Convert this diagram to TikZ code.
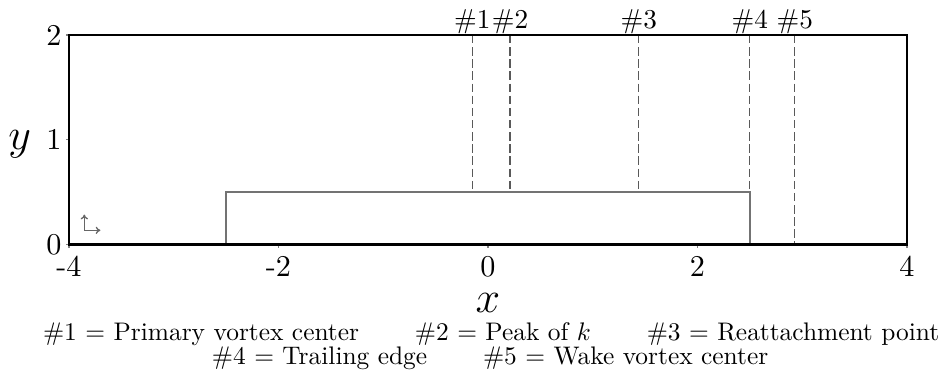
\documentclass[tikz,border=0pt]{standalone}
\usepackage{graphicx}
\usetikzlibrary{arrows.meta}
\begin{document}
\begin{tikzpicture}[x=1cm,y=1cm,
  frame/.style={draw=black,line width=0.6pt},
  body/.style={draw=black!55,line width=0.35pt},
  probe/.style={draw=black!65,line width=0.3pt,dash pattern=on 2.3pt off 1pt},
  tickmark/.style={draw=black!50,line width=0.3pt},
  ticklab/.style={inner sep=0pt},
  axlab/.style={inner sep=0pt,font=\fontsize{11.5}{13}\selectfont},
  hashlab/.style={inner sep=0pt,anchor=base},
  legend/.style={inner sep=0pt,anchor=base},
  refarrow/.style={draw=black!60,line width=0.35pt,-{To[length=1.3pt,width=2pt]}}]
\useasboundingbox (-4.659,-1.208) rectangle (4.325,2.334);
% body
\draw[body] (-2.5,0) -- (-2.5,0.5) -- (2.5,0.5) -- (2.5,0);
% probe lines
\coordinate (p1t) at (-0.15,2); \coordinate (p1b) at (-0.15,0.5);
\coordinate (p2t) at (0.21,2);  \coordinate (p2b) at (0.21,0.5);
\coordinate (p3t) at (1.44,2);  \coordinate (p3b) at (1.44,0.5);
\coordinate (p4t) at (2.5,2);   \coordinate (p4b) at (2.5,0.5);
\coordinate (p5t) at (2.93,2);  \coordinate (p5b) at (2.93,0);
\draw[probe] (p1t) -- (p1b);
\draw[probe] (p2t) -- (p2b);
\draw[probe] (p3t) -- (p3b);
\draw[probe] (p4t) -- (p4b);
\draw[probe] (p5t) -- (p5b);
% ticks
\foreach \t in {-4,-2,0,2,4} \draw[tickmark] (\t,0) -- (\t,-0.03);
\foreach \t in {0,1,2} \draw[tickmark] (-4,\t) -- (-4.03,\t);
% frame
\draw[frame] (-4,0) rectangle (4,2);
% tick labels
\node[ticklab] (xm4) at (-4,-0.21) {\scalebox{0.82}{-4}};
\node[ticklab] (xm2) at (-2,-0.21) {\scalebox{0.82}{-2}};
\node[ticklab] (x0) at (0,-0.21) {\scalebox{0.82}{0}};
\node[ticklab] (x2) at (2,-0.21) {\scalebox{0.82}{2}};
\node[ticklab] (x4) at (4,-0.21) {\scalebox{0.82}{4}};
\node[ticklab,anchor=east] (y0) at (-4.065,0) {\scalebox{0.82}{0}};
\node[ticklab,anchor=east] (y1) at (-4.065,1) {\scalebox{0.82}{1}};
\node[ticklab,anchor=east] (y2) at (-4.065,2) {\scalebox{0.82}{2}};
% axis labels
\node[axlab] (xl) at (0,-0.56) {$x$};
\node[axlab] (yl) at (-4.47,0.96) {$y$};
% hash labels
\node[hashlab] (h1) at (-0.15,2.062) {\scalebox{0.74}{\#1}};
\node[hashlab] (h2) at (0.21,2.062) {\scalebox{0.74}{\#2}};
\node[hashlab] (h3) at (1.44,2.062) {\scalebox{0.74}{\#3}};
\node[hashlab] (h4) at (2.5,2.062) {\scalebox{0.74}{\#4}};
\node[hashlab] (h5) at (2.93,2.062) {\scalebox{0.74}{\#5}};
% reference arrows
\coordinate (o) at (-3.854,0.135);
\coordinate (oy) at (-3.854,0.285);
\coordinate (ox) at (-3.70,0.135);
\draw[refarrow] (o) -- (oy);
\draw[refarrow] (o) -- (ox);
% legend
\node[legend] (l1) at (0.03,-0.916) {\scalebox{0.69}{\#1 $=$ Primary vortex center\hspace{2.2em}\#2 $=$ Peak of $k$\hspace{2.2em}\#3 $=$ Reattachment point}};
\node[legend] (l2) at (0.02,-1.146) {\scalebox{0.69}{\#4 $=$ Trailing edge\hspace{2.2em}\#5 $=$ Wake vortex center}};
\end{tikzpicture}
\end{document}
